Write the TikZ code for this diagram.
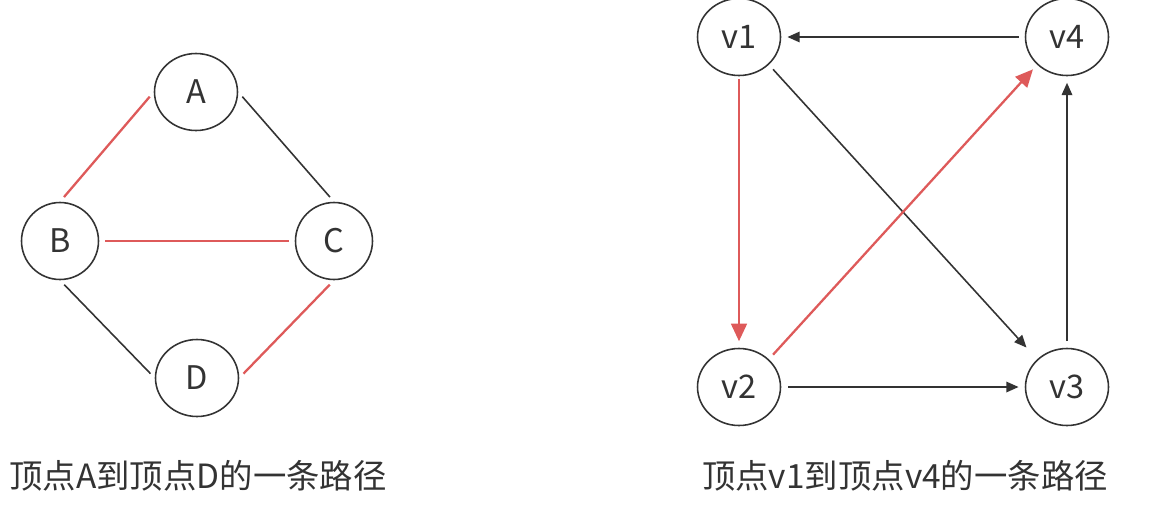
\documentclass[tikz,border=0pt]{standalone}
\usepackage{fontspec}
\setmainfont{Noto Sans CJK SC}
\usepackage{tikz}
\usetikzlibrary{arrows.meta,shapes.geometric}
\definecolor{PathRed}{HTML}{DE5A5A}
\definecolor{InkGray}{HTML}{333333}

\begin{document}
\begin{tikzpicture}[x=.02cm,y=-.02cm,line width=.9pt,font=\fontsize{18.5}{20}\selectfont,
 every node/.style={text=InkGray},
 vtx/.style={ellipse,draw=InkGray,line width=.9pt,minimum width=1.66cm,minimum height=1.54cm,inner sep=0pt},
 caption/.style={font=\fontsize{19}{21}\selectfont},
 plain/.style={draw=InkGray,line width=.9pt,shorten <=3.5pt,shorten >=3.5pt},
 onpath/.style={draw=PathRed,line width=1.3pt,shorten <=3.5pt,shorten >=3.5pt},
 arr/.style={plain,-{Triangle[length=7pt,width=6pt]}},
 redarr/.style={onpath,-{Triangle[length=10pt,width=9pt]}}]
\useasboundingbox (0,0) rectangle (1153,525);
% undirected graph
\node[vtx] (A) at (196,92) {A};
\node[vtx,minimum width=1.54cm] (B) at (60,241) {B};
\node[vtx,minimum width=1.54cm] (C) at (334,241) {C};
\node[vtx] (D) at (197,378) {D};
\draw[onpath] (B.north) -- (A.west);
\draw[plain] (A.east) -- (C.north);
\draw[onpath] (B.east) -- (C.west);
\draw[plain] (B.south) -- (D.west);
\draw[onpath] (C.south) -- (D.east);
\node[caption] (capL) at (198,476) {顶点A到顶点D的一条路径};
% directed graph
\node[vtx] (v1) at (739,37) {v1};
\node[vtx] (v4) at (1067,37) {v4};
\node[vtx] (v2) at (739,387) {v2};
\node[vtx] (v3) at (1067,387) {v3};
\draw[arr] (v4.west) -- (v1.east);
\draw[arr,shorten >=9pt] (v1.south east) -- (v3.north west);
\draw[redarr,shorten <=1.5pt,shorten >=3.7pt] (v1.south) -- (v2.north);
\draw[redarr] (v2.north east) -- (v4.south west);
\draw[arr,shorten <=4pt] (v2.east) -- (v3.west);
\draw[arr,shorten <=3.7pt,shorten >=3.7pt] (v3.north) -- (v4.south);
\node[caption] (capR) at (905,476) {顶点v1到顶点v4的一条路径};
\end{tikzpicture}
\end{document}
